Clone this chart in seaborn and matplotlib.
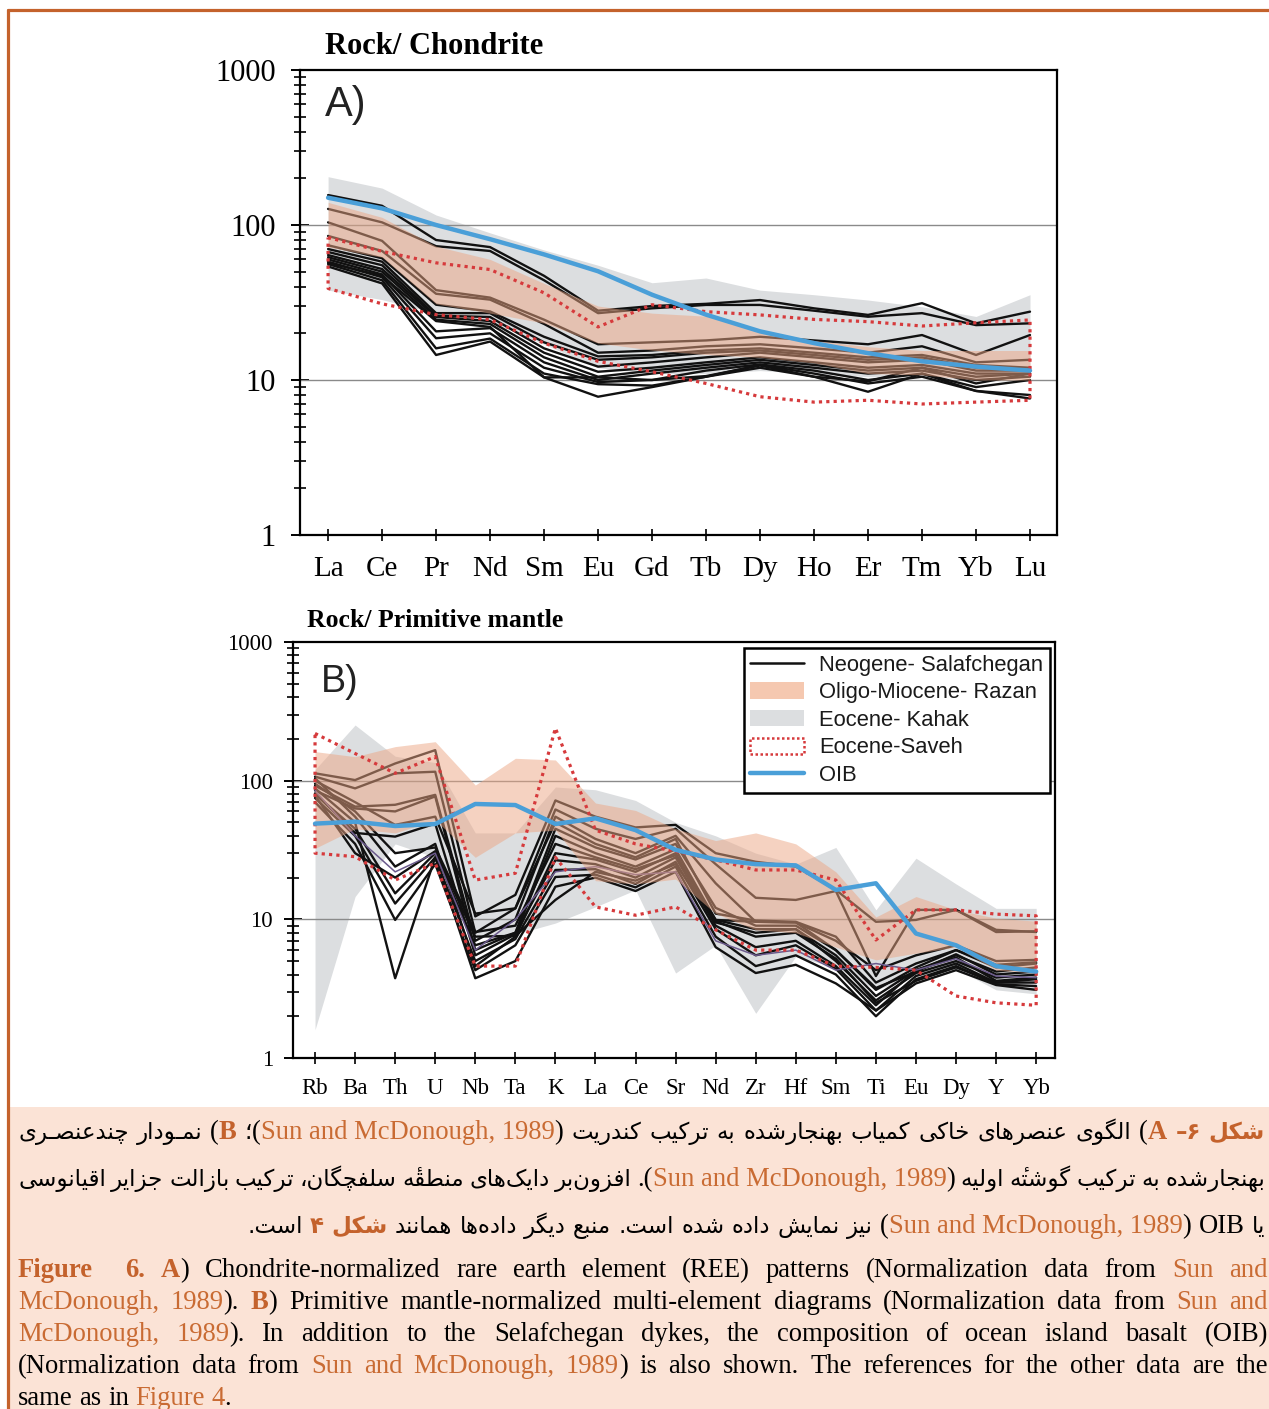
import numpy as np
import pandas as pd
import matplotlib
matplotlib.use("Agg")
import matplotlib.pyplot as plt
import matplotlib.ticker as mticker
from matplotlib.lines import Line2D
from matplotlib.patches import Patch, Rectangle
import seaborn as sns

sns.set_theme(style="ticks", rc={"axes.edgecolor": "black", "xtick.color": "black",
                                 "ytick.color": "black", "text.color": "black"})
plt.rcParams["font.family"] = ["Liberation Serif", "DejaVu Sans"]

# ---------------- A) chondrite-normalised REE ----------------
ree = ["La", "Ce", "Pr", "Nd", "Sm", "Eu", "Gd", "Tb", "Dy", "Ho", "Er", "Tm", "Yb", "Lu"]

ree_salafchegan = {
    "s01": [156, 133, 80, 72, 47, 28, 30, 31, 32.8, 29, 26.3, 31.3, 23.2, 27.6],
    "s02": [127, 104, 73, 68, 44, 27, 29, 30.5, 30.5, 28, 25.6, 27, 22.6, 23.2],
    "s03": [104, 79, 38, 34, 24.5, 17, 17.5, 18, 19, 18, 17, 19.5, 14.5, 19.5],
    "s04": [85, 68, 36, 33, 23, 15, 15.5, 16.5, 17, 16, 15, 16.5, 13, 13.5],
    "s05": [74, 61, 30.6, 27.7, 19, 14.2, 14.5, 15.5, 16, 15, 14, 14.5, 12.5, 12],
    "s06": [70, 58, 27, 27, 17.5, 13.5, 14, 15, 15.5, 14.5, 13.5, 14, 12, 11.5],
    "s07": [67, 55, 26, 25.5, 16, 12.2, 13, 14, 15, 14, 13, 13.5, 11.5, 11.5],
    "s08": [64, 52, 25.5, 24, 15, 11.3, 12, 13, 14, 13, 12, 12.5, 11, 11],
    "s09": [62, 50, 24.5, 23, 14, 10.5, 11.5, 12.5, 13.5, 12.5, 11.5, 12, 10.5, 11],
    "s10": [60, 48, 20.6, 21.6, 13, 10, 11, 12, 13, 12, 11, 11.5, 10, 10.5],
    "s11": [58, 46, 18.6, 20, 12, 9.7, 10, 11.5, 12.6, 11.5, 10, 11, 9, 10],
    "s12": [56, 44, 16, 18.5, 11, 9.4, 9.2, 10.5, 12.5, 11, 9.5, 10.5, 8.5, 8],
    "s13": [54, 42, 14.5, 17.7, 10.4, 7.8, 9, 10.5, 12, 10.5, 8.4, 11, 8.5, 7.6],
    "s14": [57, 47, 24, 22, 10.4, 10.4, 10, 10.6, 12.4, 10.5, 9.8, 12, 9.5, 11],
}
ree_razan_hi = [140, 112, 73, 60, 42, 30, 27, 25.8, 21, 18, 16.4, 15.5, 15.5, 15.5]
ree_razan_lo = [72, 62, 31, 27, 23.3, 17.3, 15.6, 14.6, 14, 12.9, 11, 10.8, 10, 10]
ree_kahak_hi = [205, 173, 116, 89, 69, 55, 42.4, 45.5, 38, 35.5, 32.8, 29.7, 25.7, 35.5]
ree_kahak_lo = [38, 33, 27, 24, 17, 12, 11, 11, 11.5, 11, 10.5, 10.5, 10, 10.5]
ree_saveh_hi = [83, 67.6, 57, 51.6, 36.5, 22, 30.6, 27.6, 26.3, 24.6, 23.8, 22.3, 23.4, 24.4]
ree_saveh_lo = [39, 31, 26.4, 24.5, 17.3, 13.2, 11.3, 9.5, 7.8, 7.2, 7.4, 7.0, 7.2, 7.4]
ree_oib = [150, 128, 100, 81, 64.6, 50.3, 35.5, 26.4, 20.6, 17.3, 14.9, 13.2, 12.2, 11.5]

# ---------------- B) primitive-mantle-normalised spider ----------------
spider = ["Rb", "Ba", "Th", "U", "Nb", "Ta", "K", "La", "Ce", "Sr", "Nd", "Zr", "Hf",
          "Sm", "Ti", "Eu", "Dy", "Y", "Yb"]

pm_salafchegan = {
    "s01": [113, 101, 133, 166, 10.5, 15, 72, 55, 46, 48, 30, 26, 24, 16.3, 9.6, 9.9, 11.7, 8.4, 8.1],
    "s02": [107, 88, 113, 116, 8, 12, 62, 45, 38, 45, 25, 14.3, 13.8, 16, 3.9, 11.7, 11.7, 8.1, 8.2],
    "s03": [92, 65, 67, 79, 7, 10, 55, 38, 30, 40, 18.2, 9.6, 9.5, 7, 4.3, 5.5, 6.5, 5, 5.1],
    "s04": [85, 63, 60, 77, 6, 8, 45, 33, 27, 35, 12.1, 9, 9, 6, 3.1, 4.5, 6, 4.7, 4.9],
    "s05": [81, 42, 39.5, 49, 5.5, 7.8, 40, 30, 24, 32, 9.9, 8.5, 8.5, 5.5, 2.8, 4.3, 5.5, 4.2, 4.5],
    "s06": [104, 55, 24, 35, 4.6, 7.5, 30, 27, 22, 30, 9.5, 8, 8.5, 5, 2.6, 4.1, 5, 3.8, 4],
    "s07": [80, 45, 15.4, 30, 6.5, 8, 26.7, 25, 20, 28, 9, 6.3, 7, 4.6, 2.4, 4.3, 5.3, 3.6, 3.8],
    "s08": [75, 40, 13, 28, 5, 7.2, 22.7, 23, 18, 26, 8.5, 5.5, 6.5, 4.4, 2.2, 3.9, 4.8, 3.5, 3.5],
    "s09": [70, 35, 9.9, 25, 4.3, 6.5, 20.2, 21, 17, 24, 7.5, 4.6, 5.5, 4, 2, 3.7, 4.6, 3.4, 3.3],
    "s10": [88, 50, 3.76, 28, 3.76, 5, 17.2, 20, 16, 22, 6.3, 4.1, 4.7, 3.45, 2.2, 3.45, 4.3, 3.36, 3.1],
    "s11": [95, 60, 30, 33, 8.1, 9, 35, 28, 23, 29, 9.9, 9.6, 9.5, 6, 3.2, 4.2, 5.6, 4, 4.2],
    "s12": [78, 30, 20, 31, 7.5, 7.6, 13.8, 22, 19, 25, 9.7, 7.5, 8, 5.2, 2.5, 3.6, 4.5, 3.5, 3.7],
    "s13": [100, 70, 48, 55, 11, 12, 50, 35, 28, 38, 11, 9.8, 9.6, 7.5, 3.5, 4.8, 6, 4.5, 4.8],
}
pm_violet = [85, 40, 22, 30, 6, 10, 22, 24, 21, 22, 7, 5.5, 6, 4.3, 4.8, 4.3, 5.2, 3.9, 3.8]
pm_razan_hi = [162, 149, 176, 191, 93, 145, 141, 69, 61, 45, 37, 42, 35, 22, 10.4, 14.6, 11.7, 10.2, 9.7]
pm_razan_lo = [32.5, 45, 42, 52, 28, 42, 44, 19, 18, 19.5, 11, 8.4, 8, 6.3, 5.1, 5.7, 6.3, 4.3, 4.1]
pm_kahak_hi = [120, 252, 150, 135, 42, 42, 90, 86, 72, 50, 40, 30, 25, 33, 11.7, 27.6, 18, 12, 12]
pm_kahak_lo = [1.6, 14.6, 35, 28, 7.5, 7.8, 9.4, 12.3, 16.3, 4.1, 6.5, 2.1, 5.4, 4.5, 3.1, 3.9, 4.4, 3.1, 2.9]
pm_saveh_hi = [219, 157, 113, 149, 19.2, 21.5, 239, 44, 35, 31, 26.8, 22.7, 22.7, 19.2, 7.1, 11.7, 11.7, 10.9, 10.6]
pm_saveh_lo = [30, 28.3, 19.2, 25.4, 4.6, 4.6, 28, 12.3, 10.7, 12.3, 8.4, 6, 6, 4.6, 4.5, 4.3, 2.8, 2.5, 2.4]
pm_oib = [49, 50.6, 47.1, 48.7, 67.9, 66.7, 48.7, 53.5, 44, 31.7, 27, 25, 24.5, 16.3, 18.2, 7.9, 6.5, 4.6, 4.2]

legend_labels = ["Neogene- Salafchegan", "Oligo-Miocene- Razan", "Eocene- Kahak",
                 "Eocene-Saveh", "OIB"]

# ---------------- styling ----------------
C_BLACK = "#111111"
C_PEACH = "#eca684"
C_PEACH_SOLID = "#f5c8b0"
C_GRAY = "#dcdee0"
C_RED = "#d63a3c"
C_BLUE = "#4a9fd8"
C_ORANGE = "#c4622c"
C_LINK = "#c96b33"
C_CAPBG = "#fbe3d6"

W, H = 1269, 1409
fig = plt.figure(figsize=(W / 100, H / 100), dpi=100)
fig.patch.set_facecolor("white")


def fx(x):
    return x / W


def fy(y):
    return 1 - y / H


def long_frame(series, names):
    rows = []
    for key, vals in series.items():
        for i, v in enumerate(vals):
            rows.append((key, i, names[i], v))
    return pd.DataFrame(rows, columns=["sample", "pos", "element", "value"])


def draw_panel(ax, names, lines, violet, razan_hi, razan_lo, kahak_hi, kahak_lo,
               saveh_hi, saveh_lo, oib, ylab_size, xlab_size, xtick_len, ypad, xpad):
    x = np.arange(len(names))
    ax.set_yscale("log")
    ax.fill_between(x, kahak_lo, kahak_hi, color=C_GRAY, lw=0, zorder=1)
    for g in (10, 100):
        ax.axhline(g, color="#8a8a8a", lw=1.0, zorder=1.5)
    df = long_frame(lines, names)
    sns.lineplot(data=df, x="pos", y="value", units="sample", estimator=None,
                 color=C_BLACK, lw=1.7, ax=ax, legend=False, zorder=2)
    if violet is not None:
        dv = pd.DataFrame({"pos": x, "value": violet})
        sns.lineplot(data=dv, x="pos", y="value", color="#6b5a8c", lw=1.1, ax=ax,
                     legend=False, zorder=2)
    ax.fill_between(x, razan_lo, razan_hi, color=C_PEACH, alpha=0.5, lw=0, zorder=3)
    px = np.r_[x, x[::-1], x[0]]
    py = np.r_[saveh_hi, saveh_lo[::-1], saveh_hi[0]]
    ax.plot(px, py, color=C_RED, lw=2.3, ls=(0, (1.0, 1.3)), zorder=4)
    do = pd.DataFrame({"pos": x, "value": oib})
    sns.lineplot(data=do, x="pos", y="value", color=C_BLUE, lw=3.2, ax=ax,
                 legend=False, zorder=5)

    ax.set_ylim(1, 1000)
    ax.yaxis.set_major_locator(mticker.FixedLocator([1, 10, 100, 1000]))
    ax.yaxis.set_major_formatter(mticker.FuncFormatter(lambda v, _: f"{v:g}"))
    ax.yaxis.set_minor_locator(mticker.LogLocator(base=10, subs=np.arange(2, 10)))
    ax.yaxis.set_minor_formatter(mticker.NullFormatter())
    ax.set_xticks(x)
    ax.set_xticklabels(names)
    ax.set_xlabel("")
    ax.set_ylabel("")
    ax.tick_params(axis="y", which="major", direction="inout", length=13, width=1.4,
                   labelsize=ylab_size, pad=ypad, right=False)
    ax.tick_params(axis="y", which="minor", direction="inout", length=9, width=1.2,
                   right=False)
    ax.tick_params(axis="x", which="major", direction="inout", length=xtick_len,
                   width=1.2, labelsize=xlab_size, pad=xpad, top=False)
    ax.tick_params(axis="x", which="minor", bottom=False, top=False)
    for s in ax.spines.values():
        s.set_visible(True)
        s.set_linewidth(1.6)
        s.set_color("black")
    ax.set_facecolor("white")


# panel A
axA = fig.add_axes([fx(300), fy(535), fx(1057) - fx(300), fy(70) - fy(535)])
draw_panel(axA, ree, ree_salafchegan, None, ree_razan_hi, ree_razan_lo, ree_kahak_hi,
           ree_kahak_lo, ree_saveh_hi, ree_saveh_lo, ree_oib, 22, 21, 9, 11, 10.5)
axA.set_xlim(-0.52, 13.5)
fig.text(fx(325), fy(54), "Rock/ Chondrite", fontsize=22, fontweight="bold",
         family="Liberation Serif", va="baseline")
axA.text(0.033, 0.925, "A)", transform=axA.transAxes, fontsize=30,
         family="Liberation Sans", va="center", ha="left", color="#222222")

# panel B
axB = fig.add_axes([fx(293), fy(1058), fx(1055) - fx(293), fy(642) - fy(1058)])
draw_panel(axB, spider, pm_salafchegan, pm_violet, pm_razan_hi, pm_razan_lo, pm_kahak_hi,
           pm_kahak_lo, pm_saveh_hi, pm_saveh_lo, pm_oib, 16.5, 16.5, 8, 8, 10.5)
axB.set_xlim(-0.55, 18.47)
fig.text(fx(307), fy(627), "Rock/ Primitive mantle", fontsize=18.5, fontweight="bold",
         family="Liberation Serif", va="baseline")
axB.text(0.036, 0.905, "B)", transform=axB.transAxes, fontsize=27,
         family="Liberation Sans", va="center", ha="left", color="#222222")

handles = [
    Line2D([], [], color=C_BLACK, lw=1.8),
    Patch(facecolor=C_PEACH_SOLID, edgecolor="none"),
    Patch(facecolor=C_GRAY, edgecolor="none"),
    Patch(facecolor="white", edgecolor=C_RED, linestyle=(0, (1, 1)), lw=1.8),
    Line2D([], [], color=C_BLUE, lw=3.2),
]
leg = axB.legend(handles, legend_labels, loc="upper right",
                 bbox_to_anchor=(fx(1050), fy(648)), bbox_transform=fig.transFigure,
                 borderaxespad=0, frameon=True, fancybox=False, framealpha=1,
                 edgecolor="black", handlelength=2.45, handleheight=0.75,
                 labelspacing=0.3, borderpad=0.3, handletextpad=0.7,
                 prop={"family": "Liberation Sans", "size": 15.8})
leg.get_frame().set_linewidth(1.8)
for t in leg.get_texts():
    t.set_color("#1a1a1a")

# ---------------- caption block ----------------
fig.patches.append(Rectangle((fx(9), 0), 1 - fx(9), fy(1107), transform=fig.transFigure,
                             facecolor=C_CAPBG, edgecolor="none", zorder=0))
fig.add_artist(Line2D([fx(8), 1], [fy(10), fy(10)], transform=fig.transFigure,
                      color=C_ORANGE, lw=2.3))
fig.add_artist(Line2D([fx(8), fx(8)], [fy(10), 0], transform=fig.transFigure,
                      color=C_ORANGE, lw=2.3))

# Arabic-script shaping (contextual forms) for right-to-left caption words
AR_FORMS = {
    "\u0621": ("\uFE80",),
    "\u0622": ("\uFE81", "\uFE82"), "\u0623": ("\uFE83", "\uFE84"),
    "\u0624": ("\uFE85", "\uFE86"), "\u0625": ("\uFE87", "\uFE88"),
    "\u0626": ("\uFE89", "\uFE8A", "\uFE8B", "\uFE8C"),
    "\u0627": ("\uFE8D", "\uFE8E"),
    "\u0628": ("\uFE8F", "\uFE90", "\uFE91", "\uFE92"),
    "\u0629": ("\uFE93", "\uFE94"),
    "\u062A": ("\uFE95", "\uFE96", "\uFE97", "\uFE98"),
    "\u062B": ("\uFE99", "\uFE9A", "\uFE9B", "\uFE9C"),
    "\u062C": ("\uFE9D", "\uFE9E", "\uFE9F", "\uFEA0"),
    "\u062D": ("\uFEA1", "\uFEA2", "\uFEA3", "\uFEA4"),
    "\u062E": ("\uFEA5", "\uFEA6", "\uFEA7", "\uFEA8"),
    "\u062F": ("\uFEA9", "\uFEAA"), "\u0630": ("\uFEAB", "\uFEAC"),
    "\u0631": ("\uFEAD", "\uFEAE"), "\u0632": ("\uFEAF", "\uFEB0"),
    "\u0633": ("\uFEB1", "\uFEB2", "\uFEB3", "\uFEB4"),
    "\u0634": ("\uFEB5", "\uFEB6", "\uFEB7", "\uFEB8"),
    "\u0635": ("\uFEB9", "\uFEBA", "\uFEBB", "\uFEBC"),
    "\u0636": ("\uFEBD", "\uFEBE", "\uFEBF", "\uFEC0"),
    "\u0637": ("\uFEC1", "\uFEC2", "\uFEC3", "\uFEC4"),
    "\u0638": ("\uFEC5", "\uFEC6", "\uFEC7", "\uFEC8"),
    "\u0639": ("\uFEC9", "\uFECA", "\uFECB", "\uFECC"),
    "\u063A": ("\uFECD", "\uFECE", "\uFECF", "\uFED0"),
    "\u0641": ("\uFED1", "\uFED2", "\uFED3", "\uFED4"),
    "\u0642": ("\uFED5", "\uFED6", "\uFED7", "\uFED8"),
    "\u0643": ("\uFED9", "\uFEDA", "\uFEDB", "\uFEDC"),
    "\u0644": ("\uFEDD", "\uFEDE", "\uFEDF", "\uFEE0"),
    "\u0645": ("\uFEE1", "\uFEE2", "\uFEE3", "\uFEE4"),
    "\u0646": ("\uFEE5", "\uFEE6", "\uFEE7", "\uFEE8"),
    "\u0647": ("\uFEE9", "\uFEEA", "\uFEEB", "\uFEEC"),
    "\u0648": ("\uFEED", "\uFEEE"), "\u0649": ("\uFEEF", "\uFEF0"),
    "\u064A": ("\uFEF1", "\uFEF2", "\uFEF3", "\uFEF4"),
    "\u067E": ("\uFB56", "\uFB57", "\uFB58", "\uFB59"),
    "\u0686": ("\uFB7A", "\uFB7B", "\uFB7C", "\uFB7D"),
    "\u0698": ("\uFB8A", "\uFB8B"),
    "\u06A9": ("\uFB8E", "\uFB8F", "\uFB90", "\uFB91"),
    "\u06AF": ("\uFB92", "\uFB93", "\uFB94", "\uFB95"),
    "\u06CC": ("\uFBFC", "\uFBFD", "\uFBFE", "\uFBFF"),
    # heh with hamza above: heh forms followed by the combining hamza mark
    "\u06C0": ("\uFEE9\u0654", "\uFEEA\u0654"),
    "\u0640": ("\u0640", "\u0640", "\u0640", "\u0640"),
}
LAM_ALEF = {"\u0627": ("\uFEFB", "\uFEFC"), "\u0622": ("\uFEF5", "\uFEF6"),
            "\u0623": ("\uFEF7", "\uFEF8"), "\u0625": ("\uFEF9", "\uFEFA")}


def rtl(s):
    out = []
    n = len(s)
    i = 0
    while i < n:
        c = s[i]
        f = AR_FORMS.get(c)
        if f is None:
            if c != "\u200c":
                out.append(c)
            i += 1
            continue
        p = s[i - 1] if i > 0 else None
        pf = AR_FORMS.get(p) if p is not None else None
        jp = pf is not None and len(pf) == 4 and len(f) >= 2
        if c == "\u0644" and i + 1 < n and s[i + 1] in LAM_ALEF:
            iso, fin = LAM_ALEF[s[i + 1]]
            out.append(fin if jp else iso)
            i += 2
            continue
        nx = s[i + 1] if i + 1 < n else None
        nf = AR_FORMS.get(nx) if nx is not None else None
        jn = len(f) == 4 and nf is not None and len(nf) >= 2
        if jp and jn:
            g = f[3]
        elif jp:
            g = f[1]
        elif jn:
            g = f[2]
        else:
            g = f[0]
        out.append(g)
        i += 1
    return "".join(reversed(out))


FA_SIZE = 16.5
EN_SIZE = 19.2
STYLES = {
    "n": dict(color="black", fontweight="normal", family=["Liberation Serif", "DejaVu Sans"],
              fontsize=EN_SIZE),
    "o": dict(color=C_LINK, fontweight="normal", family=["Liberation Serif"], fontsize=EN_SIZE),
    "ob": dict(color=C_ORANGE, fontweight="bold", family=["Liberation Serif"], fontsize=EN_SIZE),
    "fa": dict(color="black", fontweight="normal", family=["DejaVu Sans"], fontsize=FA_SIZE),
    "fab": dict(color=C_ORANGE, fontweight="bold", family=["DejaVu Sans"], fontsize=FA_SIZE),
}

renderer = fig.canvas.get_renderer()


def width_of(t):
    return t.get_window_extent(renderer=renderer).width


def space_width(style):
    a = fig.text(0, 0, "a a", **STYLES[style])
    b = fig.text(0, 0, "aa", **STYLES[style])
    w = width_of(a) - width_of(b)
    a.remove()
    b.remove()
    return w


def draw_line(words, base_y, x0, x1, mode, space_style, weights=None):
    built = []
    for w in words:
        parts = []
        tot = 0.0
        for s, st in w:
            t = fig.text(0, fy(base_y), s, va="baseline", ha="left", **STYLES[st])
            wd = width_of(t)
            parts.append((t, wd))
            tot += wd
        built.append((parts, tot))
    if weights is None:
        weights = [1.0] * (len(built) - 1)
    total = sum(b[1] for b in built)
    sp = space_width(space_style)
    if mode == "justify":
        gap = max((x1 - x0 - total) / sum(weights), sp * 0.6)
        x = x0
    elif mode == "right":
        gap = sp
        x = x1 - total - sp * sum(weights)
    else:
        gap = sp
        x = x0
    for k, (parts, tot) in enumerate(built):
        xx = x
        for t, wd in parts:
            t.set_position((fx(xx), fy(base_y)))
            xx += wd
        x += tot
        if k < len(weights):
            x += gap * weights[k]


CITE = "Sun and McDonough, 1989"

# Persian caption, words listed in visual (left-to-right) order
fa_line1 = [
    [(rtl("چندعنصـری"), "fa")],
    [(rtl("نمـودار"), "fa")],
    [("(", "n"), ("B", "ob")],
    [("\u061B", "fa"), ("(", "n"), (CITE, "o"), (")", "n")],
    [(rtl("کندریت"), "fa")],
    [(rtl("ترکیب"), "fa")],
    [(rtl("به"), "fa")],
    [(rtl("بهنجارشده"), "fa")],
    [(rtl("کمیاب"), "fa")],
    [(rtl("خاکی"), "fa")],
    [(rtl("عنصرهای"), "fa")],
    [(rtl("الگوی"), "fa")],
    [("(", "n"), ("A", "ob")],
    [(rtl("۶–"), "fab")],
    [(rtl("شکل"), "fab")],
]
fa_line2 = [
    [(rtl("اقیانوسی"), "fa")],
    [(rtl("جزایر"), "fa")],
    [(rtl("بازالت"), "fa")],
    [(rtl("ترکیب"), "fa")],
    [(rtl("سلفچگان،"), "fa")],
    [(rtl("منطقۀ"), "fa")],
    [(rtl("دایک\u200cهای"), "fa")],
    [(rtl("افزون\u200cبر"), "fa")],
    [(".(", "n"), (CITE, "o"), (")", "n")],
    [(rtl("اولیه"), "fa")],
    [(rtl("گوشتۀ"), "fa")],
    [(rtl("ترکیب"), "fa")],
    [(rtl("به"), "fa")],
    [(rtl("بهنجارشده"), "fa")],
]
fa_line3 = [
    [(rtl("است."), "fa")],
    [(rtl("۴"), "fab")],
    [(rtl("شکل"), "fab")],
    [(rtl("همانند"), "fa")],
    [(rtl("داده\u200cها"), "fa")],
    [(rtl("دیگر"), "fa")],
    [(rtl("منبع"), "fa")],
    [(rtl("است."), "fa")],
    [(rtl("شده"), "fa")],
    [(rtl("داده"), "fa")],
    [(rtl("نمایش"), "fa")],
    [(rtl("نیز"), "fa")],
    [("(", "n"), (CITE, "o"), (")", "n")],
    [("OIB", "n")],
    [(rtl("یا"), "fa")],
]
draw_line(fa_line1, 1139, 18, 1265, "justify", "fa")
draw_line(fa_line2, 1186, 18, 1265, "justify", "fa")
draw_line(fa_line3, 1233, 18, 1265, "right", "fa")


def en(text, st="n"):
    return [(w, st) for w in text.split(" ")]


en_line1 = [[("Figure", "ob")], [("6.", "ob")], [("A", "ob"), (")", "n")]] + \
    [[p] for p in en("Chondrite-normalized rare earth element (REE) patterns (Normalization data from")] + \
    [[("Sun", "o")], [("and", "o")]]
en_line2 = [[("McDonough,", "o")], [("1989", "o"), (").", "n")], [("B", "ob"), (")", "n")]] + \
    [[p] for p in en("Primitive mantle-normalized multi-element diagrams (Normalization data from")] + \
    [[("Sun", "o")], [("and", "o")]]
en_line3 = [[("McDonough,", "o")], [("1989", "o"), (").", "n")]] + \
    [[p] for p in en("In addition to the Selafchegan dykes, the composition of ocean island basalt (OIB)")]
en_line4 = [[p] for p in en("(Normalization data from")] + \
    [[("Sun", "o")], [("and", "o")], [("McDonough,", "o")], [("1989", "o"), (")", "n")]] + \
    [[p] for p in en("is also shown. The references for the other data are the")]
en_line5 = [[p] for p in en("same as in")] + [[("Figure", "o")], [("4", "o"), (".", "n")]]

draw_line(en_line1, 1277, 18, 1268, "justify", "n", [2.0] + [1.0] * (len(en_line1) - 2))
draw_line(en_line2, 1309, 18, 1268, "justify", "n")
draw_line(en_line3, 1341, 18, 1268, "justify", "n")
draw_line(en_line4, 1373, 18, 1268, "justify", "n")
draw_line(en_line5, 1405, 18, None, "left", "n")

fig.savefig("out.png", dpi=100, facecolor="white")
